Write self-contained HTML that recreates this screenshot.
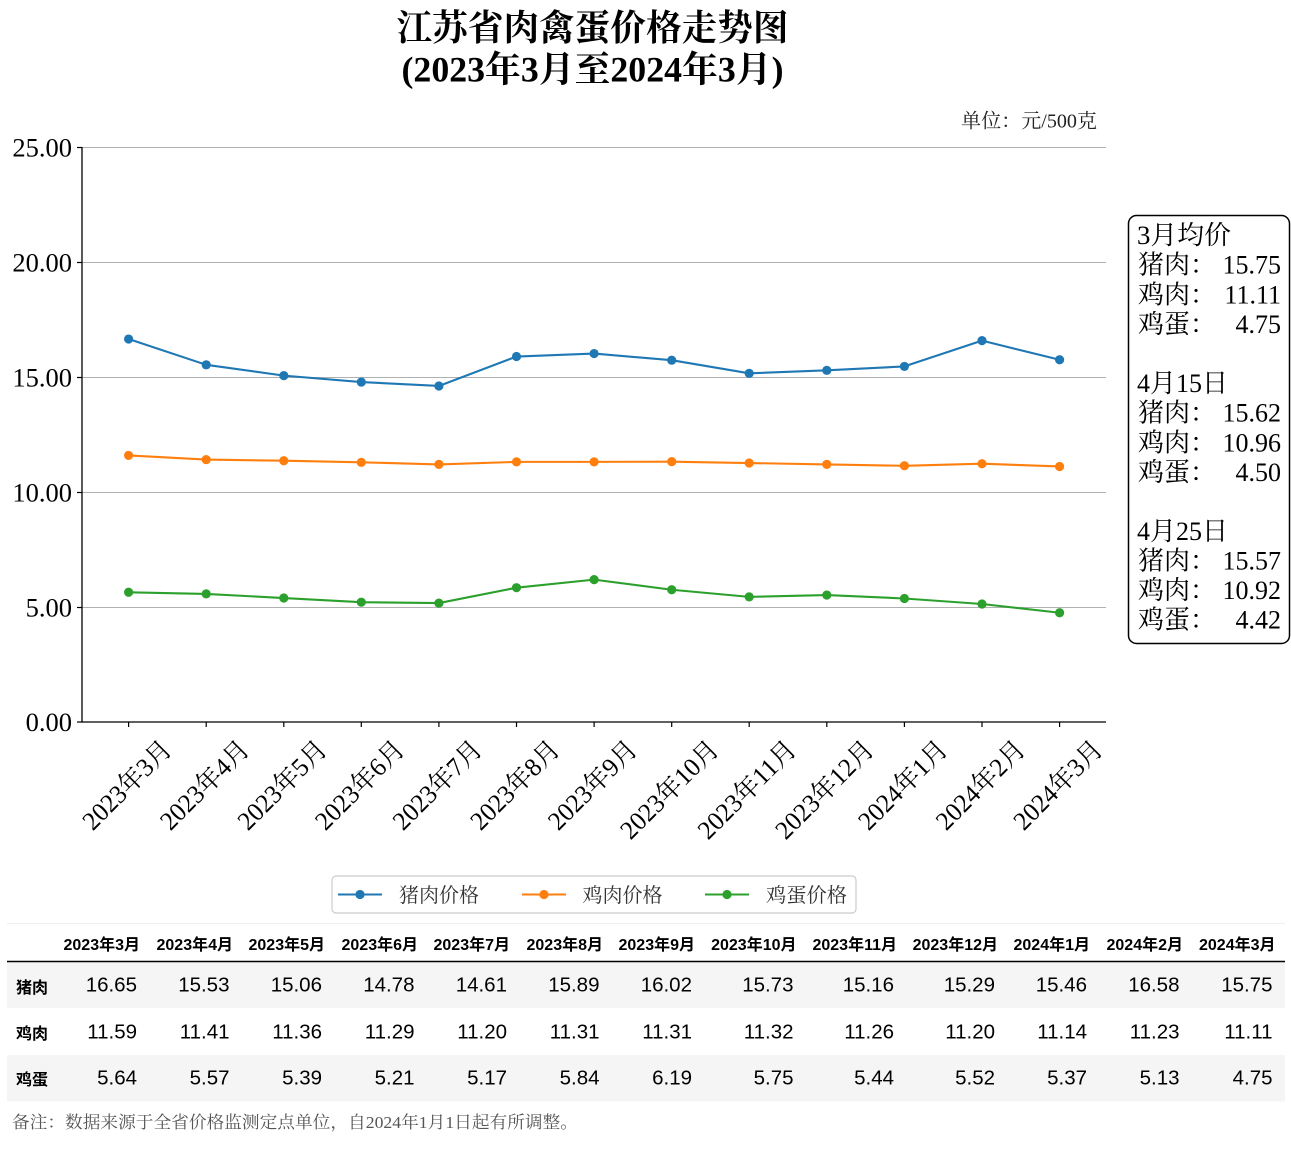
<!DOCTYPE html>
<html>
<head>
<meta charset="utf-8">
<style>
  html,body{margin:0;padding:0;background:#fff;}
  svg{display:block;}
  .serif{font-family:"Liberation Serif","Noto Serif CJK SC",serif;}
  .sans{font-family:"Liberation Sans","Noto Sans CJK SC",sans-serif;}
</style>
</head>
<body>
<svg width="1291" height="1152" viewBox="0 0 1291 1152" xmlns="http://www.w3.org/2000/svg">
  <rect x="0" y="0" width="1291" height="1152" fill="#fff"/>

  <!-- Title -->
  <text class="serif" x="592.5" y="40" font-size="36" font-weight="700" text-anchor="middle" textLength="392" lengthAdjust="spacingAndGlyphs" fill="#000">江苏省肉禽蛋价格走势图</text>
  <text class="serif" x="592.5" y="81.5" font-size="36" font-weight="700" text-anchor="middle" textLength="382" lengthAdjust="spacingAndGlyphs" fill="#000">(2023年3月至2024年3月)</text>

  <!-- Unit -->
  <text class="serif" x="1097" y="127.3" font-size="20" text-anchor="end" textLength="136" lengthAdjust="spacingAndGlyphs" fill="#222">单位：元/500克</text>

  <!-- Gridlines -->
  <g stroke="#b0b0b0" stroke-width="1">
    <line x1="82" y1="147.5" x2="1106" y2="147.5"/>
    <line x1="82" y1="262.5" x2="1106" y2="262.5"/>
    <line x1="82" y1="377.5" x2="1106" y2="377.5"/>
    <line x1="82" y1="492.5" x2="1106" y2="492.5"/>
    <line x1="82" y1="607.5" x2="1106" y2="607.5"/>
  </g>

  <!-- Spines -->
  <g stroke="#000" stroke-width="1.3">
    <line x1="82" y1="147" x2="82" y2="722.6"/>
    <line x1="81.4" y1="722" x2="1106" y2="722"/>
  </g>

  <!-- Y ticks -->
  <g stroke="#000" stroke-width="1.2">
    <line x1="77" y1="147.5" x2="82" y2="147.5"/>
    <line x1="77" y1="262.5" x2="82" y2="262.5"/>
    <line x1="77" y1="377.5" x2="82" y2="377.5"/>
    <line x1="77" y1="492.5" x2="82" y2="492.5"/>
    <line x1="77" y1="607.5" x2="82" y2="607.5"/>
    <line x1="77" y1="722" x2="82" y2="722"/>
  </g>
  <g class="serif" font-size="26.5" text-anchor="end" fill="#000">
    <text x="72" y="156.5">25.00</text>
    <text x="72" y="271.5">20.00</text>
    <text x="72" y="386.5">15.00</text>
    <text x="72" y="501.5">10.00</text>
    <text x="72" y="616.5">5.00</text>
    <text x="72" y="731">0.00</text>
  </g>

  <!-- X ticks -->
  <g stroke="#000" stroke-width="1.2">
    <line x1="128.6" y1="722" x2="128.6" y2="727"/>
    <line x1="206.2" y1="722" x2="206.2" y2="727"/>
    <line x1="283.8" y1="722" x2="283.8" y2="727"/>
    <line x1="361.3" y1="722" x2="361.3" y2="727"/>
    <line x1="438.9" y1="722" x2="438.9" y2="727"/>
    <line x1="516.5" y1="722" x2="516.5" y2="727"/>
    <line x1="594.1" y1="722" x2="594.1" y2="727"/>
    <line x1="671.7" y1="722" x2="671.7" y2="727"/>
    <line x1="749.2" y1="722" x2="749.2" y2="727"/>
    <line x1="826.8" y1="722" x2="826.8" y2="727"/>
    <line x1="904.4" y1="722" x2="904.4" y2="727"/>
    <line x1="982.0" y1="722" x2="982.0" y2="727"/>
    <line x1="1059.6" y1="722" x2="1059.6" y2="727"/>
  </g>

  <!-- X tick labels -->
  <g class="serif" font-size="26" text-anchor="middle" fill="#000">
    <text transform="translate(126.8,784.8) rotate(-45)" x="0" y="9" textLength="114" lengthAdjust="spacingAndGlyphs">2023年3月</text>
    <text transform="translate(204.4,784.8) rotate(-45)" x="0" y="9" textLength="114" lengthAdjust="spacingAndGlyphs">2023年4月</text>
    <text transform="translate(282.0,784.8) rotate(-45)" x="0" y="9" textLength="114" lengthAdjust="spacingAndGlyphs">2023年5月</text>
    <text transform="translate(359.5,784.8) rotate(-45)" x="0" y="9" textLength="114" lengthAdjust="spacingAndGlyphs">2023年6月</text>
    <text transform="translate(437.1,784.8) rotate(-45)" x="0" y="9" textLength="114" lengthAdjust="spacingAndGlyphs">2023年7月</text>
    <text transform="translate(514.7,784.8) rotate(-45)" x="0" y="9" textLength="114" lengthAdjust="spacingAndGlyphs">2023年8月</text>
    <text transform="translate(592.3,784.8) rotate(-45)" x="0" y="9" textLength="114" lengthAdjust="spacingAndGlyphs">2023年9月</text>
    <text transform="translate(669.2,789.4) rotate(-45)" x="0" y="9" textLength="127" lengthAdjust="spacingAndGlyphs">2023年10月</text>
    <text transform="translate(746.7,789.4) rotate(-45)" x="0" y="9" textLength="127" lengthAdjust="spacingAndGlyphs">2023年11月</text>
    <text transform="translate(824.3,789.4) rotate(-45)" x="0" y="9" textLength="127" lengthAdjust="spacingAndGlyphs">2023年12月</text>
    <text transform="translate(902.6,784.8) rotate(-45)" x="0" y="9" textLength="114" lengthAdjust="spacingAndGlyphs">2024年1月</text>
    <text transform="translate(980.2,784.8) rotate(-45)" x="0" y="9" textLength="114" lengthAdjust="spacingAndGlyphs">2024年2月</text>
    <text transform="translate(1057.8,784.8) rotate(-45)" x="0" y="9" textLength="114" lengthAdjust="spacingAndGlyphs">2024年3月</text>
  </g>

  <!-- Pork series -->
  <polyline fill="none" stroke="#1f77b4" stroke-width="2.1" stroke-linejoin="round"
    points="128.6,339.05 206.2,364.81 283.8,375.62 361.3,382.06 438.9,385.97 516.5,356.53 594.1,353.54 671.7,360.21 749.2,373.32 826.8,370.33 904.4,366.42 982.0,340.66 1059.6,359.75"/>
  <g fill="#1f77b4">
    <circle cx="128.6" cy="339.05" r="4.6"/><circle cx="206.2" cy="364.81" r="4.6"/><circle cx="283.8" cy="375.62" r="4.6"/>
    <circle cx="361.3" cy="382.06" r="4.6"/><circle cx="438.9" cy="385.97" r="4.6"/><circle cx="516.5" cy="356.53" r="4.6"/>
    <circle cx="594.1" cy="353.54" r="4.6"/><circle cx="671.7" cy="360.21" r="4.6"/><circle cx="749.2" cy="373.32" r="4.6"/>
    <circle cx="826.8" cy="370.33" r="4.6"/><circle cx="904.4" cy="366.42" r="4.6"/><circle cx="982.0" cy="340.66" r="4.6"/>
    <circle cx="1059.6" cy="359.75" r="4.6"/>
  </g>

  <!-- Chicken series -->
  <polyline fill="none" stroke="#ff7f0e" stroke-width="2.1" stroke-linejoin="round"
    points="128.6,455.43 206.2,459.57 283.8,460.72 361.3,462.33 438.9,464.4 516.5,461.87 594.1,461.87 671.7,461.64 749.2,463.02 826.8,464.4 904.4,465.78 982.0,463.71 1059.6,466.47"/>
  <g fill="#ff7f0e">
    <circle cx="128.6" cy="455.43" r="4.6"/><circle cx="206.2" cy="459.57" r="4.6"/><circle cx="283.8" cy="460.72" r="4.6"/>
    <circle cx="361.3" cy="462.33" r="4.6"/><circle cx="438.9" cy="464.4" r="4.6"/><circle cx="516.5" cy="461.87" r="4.6"/>
    <circle cx="594.1" cy="461.87" r="4.6"/><circle cx="671.7" cy="461.64" r="4.6"/><circle cx="749.2" cy="463.02" r="4.6"/>
    <circle cx="826.8" cy="464.4" r="4.6"/><circle cx="904.4" cy="465.78" r="4.6"/><circle cx="982.0" cy="463.71" r="4.6"/>
    <circle cx="1059.6" cy="466.47" r="4.6"/>
  </g>

  <!-- Egg series -->
  <polyline fill="none" stroke="#2ca02c" stroke-width="2.1" stroke-linejoin="round"
    points="128.6,592.28 206.2,593.89 283.8,598.03 361.3,602.17 438.9,603.09 516.5,587.68 594.1,579.63 671.7,589.75 749.2,596.88 826.8,595.04 904.4,598.49 982.0,604.01 1059.6,612.75"/>
  <g fill="#2ca02c">
    <circle cx="128.6" cy="592.28" r="4.6"/><circle cx="206.2" cy="593.89" r="4.6"/><circle cx="283.8" cy="598.03" r="4.6"/>
    <circle cx="361.3" cy="602.17" r="4.6"/><circle cx="438.9" cy="603.09" r="4.6"/><circle cx="516.5" cy="587.68" r="4.6"/>
    <circle cx="594.1" cy="579.63" r="4.6"/><circle cx="671.7" cy="589.75" r="4.6"/><circle cx="749.2" cy="596.88" r="4.6"/>
    <circle cx="826.8" cy="595.04" r="4.6"/><circle cx="904.4" cy="598.49" r="4.6"/><circle cx="982.0" cy="604.01" r="4.6"/>
    <circle cx="1059.6" cy="612.75" r="4.6"/>
  </g>

  <!-- Annotation box -->
  <rect x="1128.5" y="215.5" width="161" height="428" rx="8" ry="8" fill="#fff" stroke="#000" stroke-width="1.5"/>
  <g class="serif" font-size="26" fill="#000">
    <text x="1137" y="244" textLength="94" lengthAdjust="spacingAndGlyphs">3月均价</text>
    <text x="1138" y="273.6">猪肉：</text><text x="1281" y="273.6" text-anchor="end">15.75</text>
    <text x="1138" y="303.3">鸡肉：</text><text x="1281" y="303.3" text-anchor="end">11.11</text>
    <text x="1138" y="332.9">鸡蛋：</text><text x="1281" y="332.9" text-anchor="end">4.75</text>

    <text x="1137" y="392" textLength="91" lengthAdjust="spacingAndGlyphs">4月15日</text>
    <text x="1138" y="421.7">猪肉：</text><text x="1281" y="421.7" text-anchor="end">15.62</text>
    <text x="1138" y="451.5">鸡肉：</text><text x="1281" y="451.5" text-anchor="end">10.96</text>
    <text x="1138" y="481.2">鸡蛋：</text><text x="1281" y="481.2" text-anchor="end">4.50</text>

    <text x="1137" y="540" textLength="91" lengthAdjust="spacingAndGlyphs">4月25日</text>
    <text x="1138" y="569.5">猪肉：</text><text x="1281" y="569.5" text-anchor="end">15.57</text>
    <text x="1138" y="598.8">鸡肉：</text><text x="1281" y="598.8" text-anchor="end">10.92</text>
    <text x="1138" y="628.3">鸡蛋：</text><text x="1281" y="628.3" text-anchor="end">4.42</text>
  </g>

  <!-- Legend -->
  <rect x="332" y="876" width="524" height="37" rx="4" ry="4" fill="#fff" stroke="#cccccc" stroke-width="1.2"/>
  <line x1="338" y1="894.5" x2="382" y2="894.5" stroke="#1f77b4" stroke-width="2.1"/>
  <circle cx="360" cy="894.5" r="4.6" fill="#1f77b4"/>
  <line x1="522" y1="894.5" x2="566" y2="894.5" stroke="#ff7f0e" stroke-width="2.1"/>
  <circle cx="544" cy="894.5" r="4.6" fill="#ff7f0e"/>
  <line x1="705" y1="894.5" x2="749" y2="894.5" stroke="#2ca02c" stroke-width="2.1"/>
  <circle cx="727" cy="894.5" r="4.6" fill="#2ca02c"/>
  <g class="serif" font-size="20" fill="#333">
    <text x="399" y="902" textLength="80" lengthAdjust="spacingAndGlyphs">猪肉价格</text>
    <text x="582.5" y="902" textLength="80" lengthAdjust="spacingAndGlyphs">鸡肉价格</text>
    <text x="766" y="902" textLength="81" lengthAdjust="spacingAndGlyphs">鸡蛋价格</text>
  </g>

  <!-- Table -->
  <line x1="7" y1="923.5" x2="1285" y2="923.5" stroke="#eeeeee" stroke-width="1"/>
  <rect x="7" y="962" width="1278" height="46" fill="#f5f5f5"/>
  <rect x="7" y="1055" width="1278" height="46.5" fill="#f5f5f5"/>
  <line x1="7" y1="961.5" x2="1285" y2="961.5" stroke="#000" stroke-width="1.5"/>

  <g class="sans" font-size="16" font-weight="700" text-anchor="end" fill="#000">
    <text x="140" y="950">2023年3月</text>
    <text x="233" y="950">2023年4月</text>
    <text x="325" y="950">2023年5月</text>
    <text x="418" y="950">2023年6月</text>
    <text x="510" y="950">2023年7月</text>
    <text x="603" y="950">2023年8月</text>
    <text x="695" y="950">2023年9月</text>
    <text x="796.5" y="950">2023年10月</text>
    <text x="897" y="950">2023年11月</text>
    <text x="998" y="950">2023年12月</text>
    <text x="1090" y="950">2024年1月</text>
    <text x="1183" y="950">2024年2月</text>
    <text x="1275.5" y="950">2024年3月</text>
  </g>

  <g class="sans" font-size="16" font-weight="700" fill="#000">
    <text x="16" y="993">猪肉</text>
    <text x="16" y="1039">鸡肉</text>
    <text x="16" y="1085">鸡蛋</text>
  </g>

  <g class="sans" font-size="20.5" text-anchor="end" fill="#000">
    <!-- pork -->
    <text x="137" y="991.7">16.65</text>
    <text x="229.5" y="991.7">15.53</text>
    <text x="322" y="991.7">15.06</text>
    <text x="414.5" y="991.7">14.78</text>
    <text x="507" y="991.7">14.61</text>
    <text x="599.5" y="991.7">15.89</text>
    <text x="692" y="991.7">16.02</text>
    <text x="793.5" y="991.7">15.73</text>
    <text x="894" y="991.7">15.16</text>
    <text x="995" y="991.7">15.29</text>
    <text x="1087" y="991.7">15.46</text>
    <text x="1179.5" y="991.7">16.58</text>
    <text x="1272.5" y="991.7">15.75</text>
    <!-- chicken -->
    <text x="137" y="1038.3">11.59</text>
    <text x="229.5" y="1038.3">11.41</text>
    <text x="322" y="1038.3">11.36</text>
    <text x="414.5" y="1038.3">11.29</text>
    <text x="507" y="1038.3">11.20</text>
    <text x="599.5" y="1038.3">11.31</text>
    <text x="692" y="1038.3">11.31</text>
    <text x="793.5" y="1038.3">11.32</text>
    <text x="894" y="1038.3">11.26</text>
    <text x="995" y="1038.3">11.20</text>
    <text x="1087" y="1038.3">11.14</text>
    <text x="1179.5" y="1038.3">11.23</text>
    <text x="1272.5" y="1038.3">11.11</text>
    <!-- egg -->
    <text x="137" y="1084.3">5.64</text>
    <text x="229.5" y="1084.3">5.57</text>
    <text x="322" y="1084.3">5.39</text>
    <text x="414.5" y="1084.3">5.21</text>
    <text x="507" y="1084.3">5.17</text>
    <text x="599.5" y="1084.3">5.84</text>
    <text x="692" y="1084.3">6.19</text>
    <text x="793.5" y="1084.3">5.75</text>
    <text x="894" y="1084.3">5.44</text>
    <text x="995" y="1084.3">5.52</text>
    <text x="1087" y="1084.3">5.37</text>
    <text x="1179.5" y="1084.3">5.13</text>
    <text x="1272.5" y="1084.3">4.75</text>
  </g>

  <!-- Footnote -->
  <text class="serif" x="12" y="1128" font-size="17" fill="#555" textLength="566" lengthAdjust="spacingAndGlyphs">备注：数据来源于全省价格监测定点单位，自2024年1月1日起有所调整。</text>
</svg>
</body>
</html>
